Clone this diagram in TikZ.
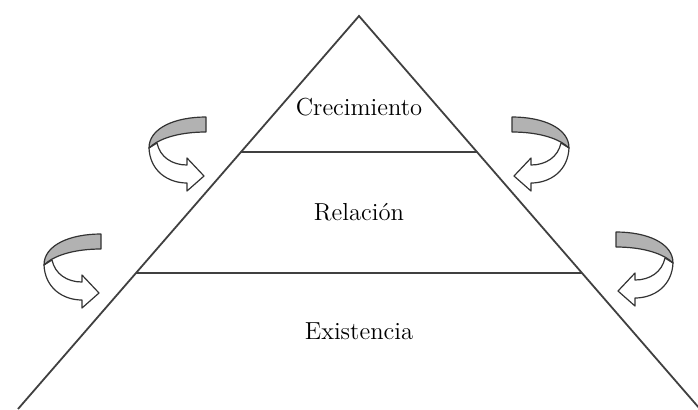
\documentclass[tikz,border=0pt]{standalone}
\usepackage{tikz}

\begin{document}
\begin{tikzpicture}[
  x=0.5pt, y=-0.5pt,
  font=\fontsize{12.3}{14}\selectfont,
  side/.style={draw=black!75, line width=0.9pt},
  label/.style={inner sep=0pt, anchor=center},
  band/.style={draw=black!80, fill=black!30, line width=0.6pt, line join=round},
  shaft/.style={draw=black!80, fill=white, line width=0.6pt, line join=round},
  turnarrow/.pic={
    % white part, ends in the head
    \path[shaft] (-55,-28) .. controls (-54,-5) and (-36,7) .. (-17,7)
      -- (-17,15) -- (0,0) -- (-17,-18) -- (-17,-11)
      .. controls (-32,-11) and (-44,-19) .. (-47,-33) -- cycle;
    % grey back of the band
    \path[band] (2,-59) .. controls (-29,-59) and (-55,-48) .. (-55,-28)
      .. controls (-46,-37) and (-26,-44) .. (2,-44) -- cycle;
  },
]
  \useasboundingbox (0,0) rectangle (698,409);

  \coordinate (apex) at (359,16);
  \coordinate (bl)   at (18,409);
  \coordinate (br)   at (700,409);
  \coordinate (l1)   at (241,152);
  \coordinate (r1)   at (477,152);
  \coordinate (l2)   at (136,273);
  \coordinate (r2)   at (582,273);

  \draw[side] (bl) -- (apex) -- (br);
  \draw[side] (l1) -- (r1);
  \draw[side] (l2) -- (r2);

  \node[label] (crec) at (359,107) {Crecimiento};
  \node[label] (rel)  at (359,212) {Relación};
  \node[label] (exis) at (359,331) {Existencia};

  \pic at (204,176) {turnarrow};
  \pic[xscale=-1] at (514,176) {turnarrow};
  \pic at (99,293) {turnarrow};
  \pic[xscale=-1] at (618,291) {turnarrow};
\end{tikzpicture}
\end{document}
